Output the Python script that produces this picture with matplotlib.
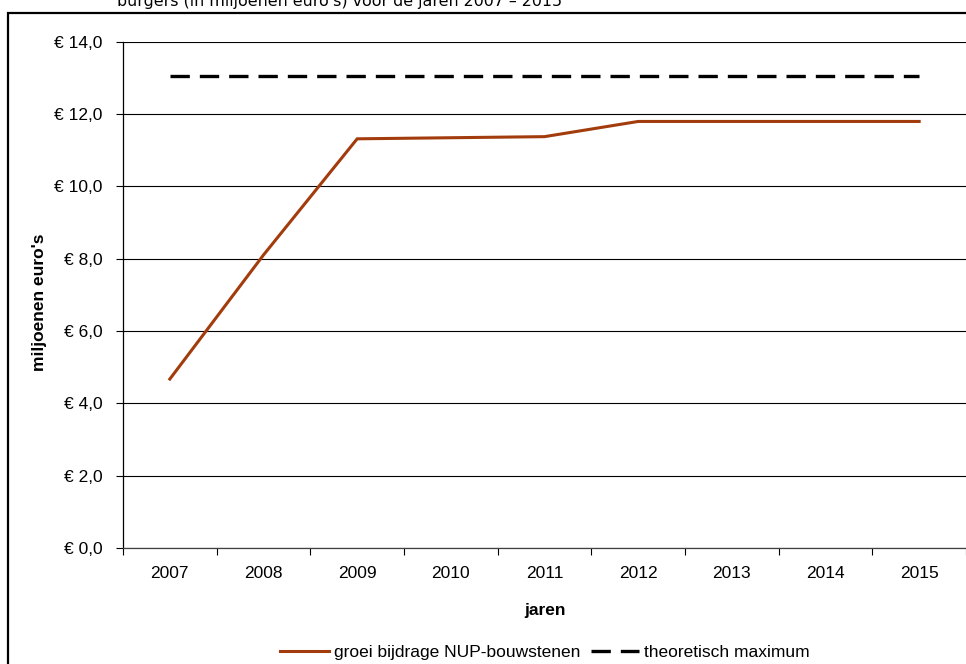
import matplotlib.pyplot as plt
from matplotlib.patches import Rectangle

plt.rcParams['font.family'] = ['Liberation Sans', 'DejaVu Sans']

years = ['2007', '2008', '2009', '2010', '2011', '2012', '2013', '2014', '2015']
groei = [4.67, 8.1, 11.31, 11.34, 11.37, 11.79, 11.79, 11.79, 11.79]  # miljoenen euro's
maximum = [13.05] * len(years)
y_ticks = [0, 2, 4, 6, 8, 10, 12, 14]

fig = plt.figure(figsize=(9.66, 6.64), dpi=100)
ax = fig.add_axes([123 / 966, 1 - 548 / 664, 1 - 123 / 966, (548 - 41.5) / 664])

x = list(range(len(years)))
ax.plot(x, groei, color='#A23C0C', lw=2.2, solid_joinstyle='miter',
        label='groei bijdrage NUP-bouwstenen')
ax.plot(x, maximum, color='black', lw=2.4, dashes=(5.8, 3.0), dash_capstyle='butt',
        label='theoretisch maximum')

ax.set_xlim(-0.5, len(years) - 0.5)
ax.set_ylim(0, 14)
ax.set_yticks(y_ticks)
ax.set_yticklabels(['€ %d,0' % v for v in y_ticks])
ax.yaxis.grid(True, color='black', lw=0.8)
ax.set_axisbelow(True)

# year labels in the middle, tick marks between the years
ax.set_xticks([i - 0.5 for i in range(len(years) + 1)])
ax.set_xticklabels([])
ax.set_xticks(x, minor=True)
ax.set_xticklabels(years, minor=True)
ax.tick_params(axis='x', which='major', length=5, width=0.8, direction='out')
ax.tick_params(axis='x', which='minor', length=0, pad=13, labelsize=12.5)
ax.tick_params(axis='y', length=5, width=0.8, pad=10, labelsize=12.5)

for side in ['top', 'right']:
    ax.spines[side].set_visible(False)
ax.spines['left'].set_linewidth(0.9)
ax.spines['bottom'].set_linewidth(0.9)
ax.spines['bottom'].set_color('#404040')

ax.set_ylabel("miljoenen euro's", fontsize=12.5, fontweight='bold')
ax.yaxis.set_label_coords(-76 / 843, 0.485)
ax.set_xlabel('jaren', fontsize=12.5, fontweight='bold', labelpad=16)

fig.legend(loc='center', bbox_to_anchor=(545 / 966, 1 - 652 / 664), ncol=2, frameon=False,
           fontsize=12.5, handlelength=2.8, handletextpad=0.3, columnspacing=0.6)

# outer chart border and clipped title text from the report
fig.patches.append(Rectangle((8 / 966, -0.1), 1.2, 1 - 12.5 / 664 + 0.1, transform=fig.transFigure,
                             fill=False, edgecolor='black', lw=1.6))
fig.text(117 / 966, 1 - 6 / 664, "burgers (in miljoenen euro's) voor de jaren 2007 \u2013 2015",
         fontsize=11.4, family='DejaVu Sans', va='baseline', ha='left')

fig.savefig('out.png', dpi=100)
